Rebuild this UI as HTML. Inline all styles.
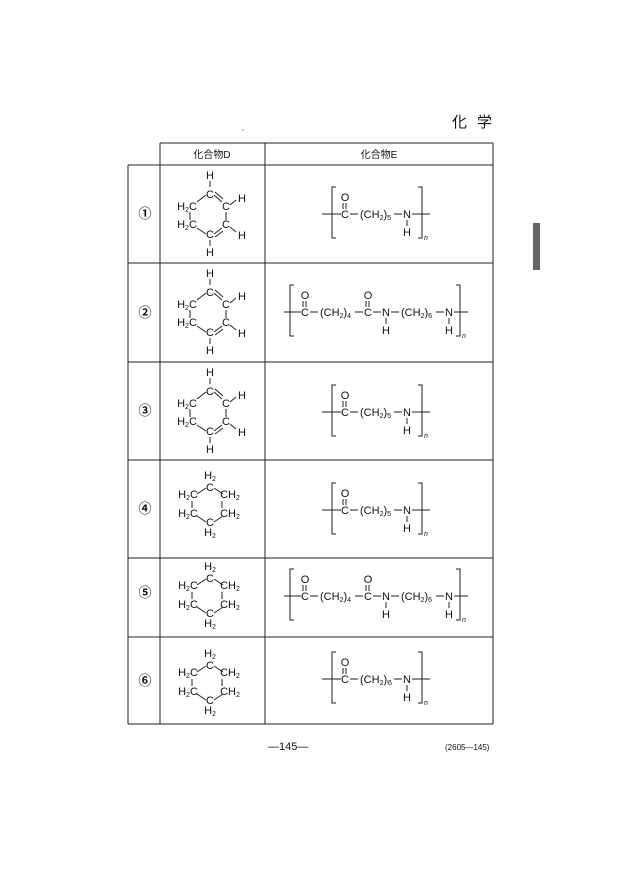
<!DOCTYPE html>
<html><head><meta charset="utf-8"><style>
html,body{margin:0;padding:0;background:#fff}
svg{display:block}
text{font-family:"Liberation Sans","Noto Sans CJK JP",sans-serif;fill:#111}
.a{font-size:11px;text-anchor:middle}
.s{font-size:7px}
line,polyline{stroke:#222;stroke-width:1;fill:none}
</style></head><body>
<svg width="620" height="876" viewBox="0 0 620 876">
<defs>
<g id="bz">
<text class="a" x="210" y="14">H</text>
<line x1="210" y1="16" x2="210" y2="22"/>
<text class="a" x="210" y="33">C</text>
<line x1="214" y1="30" x2="222" y2="37"/><line x1="215" y1="27" x2="223" y2="34"/>
<line x1="206" y1="30" x2="197" y2="37"/>
<text class="a" x="187" y="45">H<tspan class="s" dy="2">2</tspan><tspan dy="-2">C</tspan></text>
<text class="a" x="187" y="63">H<tspan class="s" dy="2">2</tspan><tspan dy="-2">C</tspan></text>
<line x1="190" y1="47" x2="190" y2="55"/>
<text class="a" x="226" y="45">C</text>
<text class="a" x="226" y="63">C</text>
<line x1="226" y1="47" x2="226" y2="55"/>
<line x1="230" y1="40" x2="236" y2="35"/><text class="a" x="242" y="37">H</text>
<line x1="230" y1="62" x2="236" y2="67"/><text class="a" x="242" y="74">H</text>
<text class="a" x="210" y="73">C</text>
<line x1="197" y1="63" x2="206" y2="69"/>
<line x1="222" y1="63" x2="214" y2="69"/><line x1="223" y1="66" x2="215" y2="72"/>
<line x1="210" y1="75" x2="210" y2="81"/>
<text class="a" x="210" y="91">H</text>
</g>
<g id="cy">
<text class="a" x="210" y="19">H<tspan class="s" dy="2">2</tspan></text>
<text class="a" x="210" y="31">C</text>
<line x1="206" y1="28" x2="197" y2="34"/><line x1="214" y1="28" x2="223" y2="34"/>
<text class="a" x="188" y="38">H<tspan class="s" dy="2">2</tspan><tspan dy="-2">C</tspan></text>
<text class="a" x="230" y="38">CH<tspan class="s" dy="2">2</tspan></text>
<text class="a" x="188" y="57">H<tspan class="s" dy="2">2</tspan><tspan dy="-2">C</tspan></text>
<text class="a" x="230" y="57">CH<tspan class="s" dy="2">2</tspan></text>
<line x1="192" y1="41" x2="192" y2="48"/><line x1="222" y1="41" x2="222" y2="48"/>
<line x1="197" y1="56" x2="206" y2="62"/><line x1="223" y1="56" x2="214" y2="62"/>
<text class="a" x="210" y="66">C</text>
<text class="a" x="210" y="76">H<tspan class="s" dy="2">2</tspan></text>
</g>
</defs>
<text x="452" y="127" style="font-size:15px;letter-spacing:10px">化学</text>
<circle cx="243" cy="130" r="0.6" fill="#444"/>
<rect x="533" y="223" width="7" height="47" fill="#666"/>
<g stroke="#333" stroke-width="1">
<line x1="160" y1="143" x2="493" y2="143"/>
<line x1="128" y1="165" x2="493" y2="165"/>
<line x1="128" y1="263" x2="493" y2="263"/>
<line x1="128" y1="362" x2="493" y2="362"/>
<line x1="128" y1="460" x2="493" y2="460"/>
<line x1="128" y1="558" x2="493" y2="558"/>
<line x1="128" y1="637" x2="493" y2="637"/>
<line x1="128" y1="724" x2="493" y2="724"/>
<line x1="128" y1="165" x2="128" y2="724"/>
<line x1="160" y1="143" x2="160" y2="724"/>
<line x1="265" y1="143" x2="265" y2="724"/>
<line x1="493" y1="143" x2="493" y2="724"/>
</g>
<text class="a" x="212" y="158" style="font-size:10px">化合物D</text>
<text class="a" x="379" y="158" style="font-size:10px">化合物E</text>
<g style="font-size:13px;font-weight:bold">
<text class="a" x="145" y="218" style="font-size:13px">①</text><text class="a" x="145" y="317" style="font-size:13px">②</text>
<text class="a" x="145" y="415" style="font-size:13px">③</text><text class="a" x="145" y="513" style="font-size:13px">④</text>
<text class="a" x="145" y="597" style="font-size:13px">⑤</text><text class="a" x="145" y="685" style="font-size:13px">⑥</text>
</g>
<use href="#bz" y="165"/><use href="#bz" y="263"/><use href="#bz" y="362"/>
<use href="#cy" y="460"/><use href="#cy" y="551"/><use href="#cy" y="638"/>
<g id="es" transform="translate(0,165)">
<polyline points="336,22 332,22 332,73 336,73"/>
<polyline points="418,22 422,22 422,73 418,73"/>
<text class="a" x="345" y="36">O</text>
<line x1="343" y1="38" x2="343" y2="44"/><line x1="346" y1="38" x2="346" y2="44"/>
<line x1="322" y1="49" x2="341" y2="49"/>
<text class="a" x="345" y="53">C</text>
<line x1="350" y1="49" x2="358" y2="49"/>
<text x="360" y="53" style="font-size:11px">(CH<tspan class="s" dy="2">2</tspan><tspan dy="-2">)</tspan><tspan class="s" dy="2">5</tspan></text>
<line x1="394" y1="49" x2="402" y2="49"/>
<text class="a" x="407" y="53">N</text>
<line x1="412" y1="49" x2="430" y2="49"/>
<line x1="407" y1="55" x2="407" y2="61"/>
<text class="a" x="407" y="71">H</text>
<text x="424" y="75" style="font-size:7px;font-style:italic">n</text>
</g>
<use href="#es" transform="translate(0,198)"/>
<use href="#es" transform="translate(0,296)"/>
<use href="#es" transform="translate(0,465)"/>
<rect x="388" y="679" width="5" height="9" fill="#fff"/>
<text x="388" y="685" class="s">6</text>
<g id="el" transform="translate(0,263)">
<polyline points="294,22 290,22 290,73 294,73"/>
<polyline points="456,22 460,22 460,73 456,73"/>
<text class="a" x="305" y="36">O</text>
<line x1="303" y1="38" x2="303" y2="44"/><line x1="306" y1="38" x2="306" y2="44"/>
<line x1="284" y1="49" x2="301" y2="49"/>
<text class="a" x="305" y="53">C</text>
<line x1="310" y1="49" x2="318" y2="49"/>
<text x="320" y="53" style="font-size:11px">(CH<tspan class="s" dy="2">2</tspan><tspan dy="-2">)</tspan><tspan class="s" dy="2">4</tspan></text>
<line x1="355" y1="49" x2="363" y2="49"/>
<text class="a" x="368" y="36">O</text>
<line x1="366" y1="38" x2="366" y2="44"/><line x1="369" y1="38" x2="369" y2="44"/>
<text class="a" x="368" y="53">C</text>
<line x1="373" y1="49" x2="381" y2="49"/>
<text class="a" x="386" y="53">N</text>
<line x1="386" y1="55" x2="386" y2="61"/>
<text class="a" x="386" y="71">H</text>
<line x1="391" y1="49" x2="399" y2="49"/>
<text x="401" y="53" style="font-size:11px">(CH<tspan class="s" dy="2">2</tspan><tspan dy="-2">)</tspan><tspan class="s" dy="2">6</tspan></text>
<line x1="436" y1="49" x2="444" y2="49"/>
<text class="a" x="449" y="53">N</text>
<line x1="449" y1="55" x2="449" y2="61"/>
<text class="a" x="449" y="71">H</text>
<line x1="454" y1="49" x2="468" y2="49"/>
<text x="462" y="75" style="font-size:7px;font-style:italic">n</text>
</g>
<use href="#el" transform="translate(0,284)"/>
<text x="268" y="750" style="font-size:11px">—145—</text>
<text x="445" y="750" style="font-size:8px">(2605—145)</text>
</svg>
</body></html>
